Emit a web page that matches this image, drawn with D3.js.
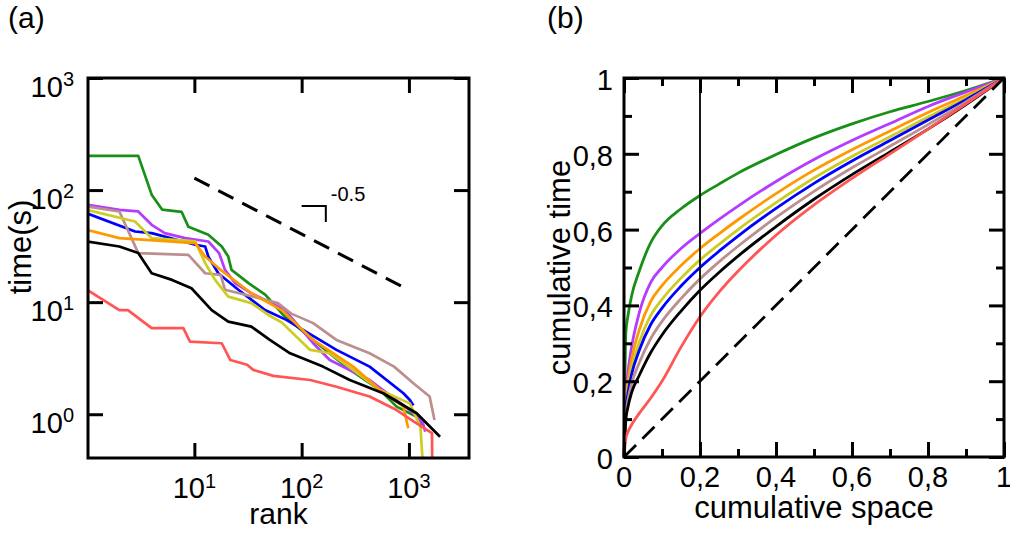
<!DOCTYPE html>
<html><head><meta charset="utf-8">
<script src="https://cdn.jsdelivr.net/npm/d3@7"></script>
<style>
html,body{margin:0;padding:0;background:#fff;}
svg{display:block;font-family:"Liberation Sans",Arial,Helvetica,sans-serif;}
</style></head><body>
<svg id="chart" width="1010" height="533"></svg>
<script>
// ---------- Panel (a): rank plot (rank, time in s) ----------
const rankTicks = [10, 100, 1000];
const timeTicks = [1, 10, 100, 1000];
const greenRank = [1, 3, 4, 5, 7.6, 8.8, 13.5, 18, 20.7, 22.2, 32, 46, 70, 128, 281, 535, 767, 1180, 1300];
const greenTime = [202, 202, 91, 67, 64, 47, 40, 31.4, 25.5, 19.4, 14.8, 11.6, 7.4, 4.6, 2.5, 1.65, 1.17, 0.95, 0.8];
const purpleRank = [1, 2, 3, 4, 5.3, 8.2, 13.5, 17, 19.3, 24, 34, 70, 128, 183, 430, 1020, 1350, 1420];
const purpleTime = [74, 66.7, 64.5, 49, 41.3, 37.3, 34.8, 27.4, 19.4, 14.8, 12, 8.5, 4.3, 3.05, 2.02, 1.09, 0.83, 0.7];
const blueRank = [1, 2.8, 4, 10.2, 12.6, 13.5, 16.7, 25.7, 45.6, 72, 211, 430, 888, 1020, 1100];
const blueTime = [62, 42.7, 41.3, 32.5, 31.4, 25.5, 18.1, 12.9, 8.5, 6.95, 3.75, 2.66, 1.54, 1.34, 1.2];
const brownRank = [1, 2, 3, 8.8, 12.6, 17.6, 19.3, 39.4, 60, 80, 128, 211, 430, 727, 1100, 1560, 1730];
const brownTime = [71.4, 64.4, 27.4, 26.4, 18.1, 17.5, 12.9, 10.9, 9.8, 7.9, 6.5, 4.6, 3.5, 2.66, 1.89, 1.44, 0.89];
const yellowRank = [1, 2.8, 4, 10.2, 12.6, 15.6, 20.7, 34, 50, 65, 120, 183, 302, 535, 1020, 1280, 1350];
const yellowTime = [66.7, 52.5, 37.3, 34.8, 22.3, 15.8, 11.2, 9.8, 7.6, 6.6, 3.75, 3.5, 2.49, 1.65, 1.25, 0.77, 0.35];
const orangeRank = [1, 2, 10.2, 12.6, 17.6, 34, 65, 128, 302, 535, 888, 985];
const orangeTime = [44.2, 37.3, 33.6, 25.5, 19.4, 12, 8.5, 4.6, 2.66, 1.65, 1.17, 0.75];
const blackRank = [1, 2, 3, 4, 6.2, 9.4, 14.5, 20.7, 34, 50.5, 78, 158, 281, 575, 1180, 1950];
const blackTime = [34.8, 31.4, 27.4, 18.1, 15.8, 13.3, 8.5, 6.7, 6.05, 4.6, 3.5, 2.66, 2.02, 1.54, 1.02, 0.63];
const redRank = [1, 2, 2.4, 4, 7.9, 9.1, 18, 21.6, 31, 35.4, 54.5, 120, 211, 430, 767, 1180, 1640, 1650];
const redTime = [12.9, 8.5, 8.5, 5.86, 5.86, 4.45, 4.3, 3.05, 2.76, 2.49, 2.2, 2.02, 1.76, 1.44, 1.09, 0.83, 0.68, 0.35];
const guideRank = [10, 1000];
const guideTime = [128, 12.8];
const slopeMarkRank = [100, 168, 168];
const slopeMarkTime = [72, 72, 52];
const slopeLabel = "-0.5";

// ---------- Panel (b): cumulative space vs cumulative time ----------
const spaceTicks = [0, 0.2, 0.4, 0.6, 0.8, 1];
const spaceMinorTicks = [0.1, 0.3, 0.5, 0.7, 0.9];
const spaceTickLabels = ["0", "0,2", "0,4", "0,6", "0,8", "1"];
const lorenzX =   [0, 0.005, 0.01, 0.02, 0.04, 0.07, 0.1, 0.15, 0.2, 0.25, 0.3, 0.4, 0.5, 0.6, 0.7, 0.8, 0.9, 1];
const greenCum =  [0, 0.33, 0.37, 0.425, 0.49, 0.565, 0.61, 0.655, 0.69, 0.72, 0.749, 0.798, 0.842, 0.879, 0.911, 0.938, 0.967, 1];
const purpleCum = [0, 0.17, 0.22, 0.29, 0.38, 0.46, 0.50, 0.55, 0.59, 0.627, 0.662, 0.727, 0.785, 0.835, 0.88, 0.925, 0.963, 1];
const orangeCum = [0, 0.151, 0.196, 0.258, 0.335, 0.41, 0.452, 0.505, 0.55, 0.589, 0.626, 0.695, 0.757, 0.811, 0.86, 0.909, 0.954, 1];
const yellowCum = [0, 0.137, 0.178, 0.234, 0.302, 0.373, 0.416, 0.472, 0.52, 0.561, 0.60, 0.671, 0.736, 0.793, 0.845, 0.897, 0.947, 1];
const blueCum =   [0, 0.128, 0.166, 0.218, 0.281, 0.349, 0.393, 0.451, 0.50, 0.543, 0.583, 0.656, 0.722, 0.781, 0.835, 0.889, 0.943, 1];
const brownCum =  [0, 0.114, 0.148, 0.194, 0.248, 0.312, 0.358, 0.418, 0.47, 0.515, 0.556, 0.632, 0.701, 0.763, 0.82, 0.877, 0.937, 1];
const blackCum =  [0, 0.10, 0.13, 0.17, 0.215, 0.275, 0.322, 0.385, 0.44, 0.487, 0.53, 0.608, 0.68, 0.745, 0.805, 0.865, 0.93, 1];
const redCum =    [0, 0.05, 0.065, 0.085, 0.115, 0.155, 0.20, 0.29, 0.37, 0.435, 0.49, 0.585, 0.665, 0.735, 0.80, 0.865, 0.932, 1];
const cutoffSpace = 0.2;

const colors = {green:"#189018", purple:"#b43cff", blue:"#0000ff", brown:"#bc8f8f",
  yellow:"#cccc22", orange:"#ff9900", black:"#000000", red:"#ff5555"};

const svg = d3.select("#chart");
const zip = (a, b) => a.map((v, i) => [v, b[i]]);

// ================= Panel (a) =================
const A = {l: 88, r: 469, t: 78, b: 458};
const xA = d3.scaleLog().domain([1.02, 3630]).range([A.l, A.r]);
const yA = d3.scaleLog().domain([0.407, 1000]).range([A.b, A.t]);
svg.append("clipPath").attr("id", "clipA").append("rect")
  .attr("x", A.l).attr("y", A.t).attr("width", A.r - A.l).attr("height", A.b - A.t);
const gA = svg.append("g");
const lineA = d3.line().x(d => xA(d[0])).y(d => yA(d[1]));
const seriesA = [
  ["green", greenRank, greenTime], ["purple", purpleRank, purpleTime], ["blue", blueRank, blueTime],
  ["brown", brownRank, brownTime], ["yellow", yellowRank, yellowTime], ["orange", orangeRank, orangeTime],
  ["black", blackRank, blackTime], ["red", redRank, redTime]];
const plotA = gA.append("g").attr("clip-path", "url(#clipA)");
seriesA.forEach(([c, r, t]) => {
  plotA.append("path").attr("d", lineA(zip(r, t))).attr("fill", "none")
    .attr("stroke", colors[c]).attr("stroke-width", 2.7).attr("stroke-linejoin", "round");
});
gA.append("path").attr("d", lineA(zip(guideRank, guideTime))).attr("fill", "none")
  .attr("stroke", "#000").attr("stroke-width", 3).attr("stroke-dasharray", "17,10");
gA.append("path").attr("d", lineA(zip(slopeMarkRank, slopeMarkTime))).attr("fill", "none")
  .attr("stroke", "#000").attr("stroke-width", 2);
gA.append("text").attr("x", xA(187)).attr("y", yA(80)).attr("font-size", 20).text(slopeLabel);

function styleAxis(g) {
  g.select(".domain").remove();
  g.selectAll(".tick line").attr("stroke", "#000").attr("stroke-width", 3);
  g.selectAll(".tick text").remove();
}
gA.append("g").attr("transform", `translate(0,${A.b})`)
  .call(d3.axisBottom(xA).tickValues(rankTicks).tickSizeInner(-15).tickSizeOuter(0)).call(styleAxis);
gA.append("g").attr("transform", `translate(0,${A.t})`)
  .call(d3.axisTop(xA).tickValues(rankTicks).tickSizeInner(-15).tickSizeOuter(0)).call(styleAxis);
gA.append("g").attr("transform", `translate(${A.l},0)`)
  .call(d3.axisLeft(yA).tickValues(timeTicks).tickSizeInner(-15).tickSizeOuter(0)).call(styleAxis);
gA.append("g").attr("transform", `translate(${A.r},0)`)
  .call(d3.axisRight(yA).tickValues(timeTicks).tickSizeInner(-15).tickSizeOuter(0)).call(styleAxis);
gA.append("rect").attr("x", A.l).attr("y", A.t).attr("width", A.r - A.l).attr("height", A.b - A.t)
  .attr("fill", "none").attr("stroke", "#000").attr("stroke-width", 3);

// tick labels (a)
const xLab = gA.selectAll(".xlab").data(rankTicks).join("text").attr("class", "xlab")
  .attr("x", d => xA(d)).attr("y", A.b + 40).attr("text-anchor", "middle").attr("font-size", 29);
xLab.append("tspan").text("10");
xLab.append("tspan").attr("dy", -10).attr("font-size", 20).text(d => Math.round(Math.log10(d)));
const yLab = gA.selectAll(".ylab").data(timeTicks).join("text").attr("class", "ylab")
  .attr("x", 74).attr("y", d => yA(d) + 19).attr("text-anchor", "end").attr("font-size", 29);
yLab.append("tspan").text("10");
yLab.append("tspan").attr("dy", -11).attr("font-size", 20).text(d => Math.round(Math.log10(d)));

gA.append("text").attr("x", (A.l + A.r) / 2).attr("y", 524).attr("text-anchor", "middle")
  .attr("font-size", 30).text("rank");
gA.append("text").attr("transform", "translate(31,247) rotate(-90)").attr("text-anchor", "middle")
  .attr("font-size", 31).text("time(s)");
svg.append("text").attr("x", 8).attr("y", 28).attr("font-size", 30).text("(a)");

// ================= Panel (b) =================
const B = {l: 624, r: 1004, t: 78, b: 457};
const xB = d3.scaleLinear().domain([0, 1]).range([B.l, B.r]);
const yB = d3.scaleLinear().domain([0, 1]).range([B.b, B.t]);
const gB = svg.append("g");
const lineB = d3.line().x(d => xB(d[0])).y(d => yB(d[1])).curve(d3.curveMonotoneX);
const seriesB = [["green", greenCum], ["purple", purpleCum], ["orange", orangeCum], ["yellow", yellowCum],
  ["blue", blueCum], ["brown", brownCum], ["black", blackCum], ["red", redCum]];
seriesB.forEach(([c, v]) => {
  gB.append("path").attr("d", lineB(zip(lorenzX, v))).attr("fill", "none")
    .attr("stroke", colors[c]).attr("stroke-width", 2.8);
});
gB.append("path").attr("d", d3.line().x(d => xB(d)).y(d => yB(d))([0, 1])).attr("fill", "none")
  .attr("stroke", "#000").attr("stroke-width", 2.8).attr("stroke-dasharray", "17,9");
gB.append("line").attr("x1", xB(cutoffSpace)).attr("x2", xB(cutoffSpace)).attr("y1", yB(0)).attr("y2", yB(1))
  .attr("stroke", "#000").attr("stroke-width", 1.8);

[[d3.axisBottom, `translate(0,${B.b})`, xB], [d3.axisTop, `translate(0,${B.t})`, xB],
 [d3.axisLeft, `translate(${B.l},0)`, yB], [d3.axisRight, `translate(${B.r},0)`, yB]].forEach(([ax, tr, sc]) => {
  gB.append("g").attr("transform", tr).call(ax(sc).tickValues(spaceTicks).tickSizeInner(-15).tickSizeOuter(0)).call(styleAxis);
  gB.append("g").attr("transform", tr).call(ax(sc).tickValues(spaceMinorTicks).tickSizeInner(-8).tickSizeOuter(0)).call(styleAxis);
});
gB.append("rect").attr("x", B.l).attr("y", B.t).attr("width", B.r - B.l).attr("height", B.b - B.t)
  .attr("fill", "none").attr("stroke", "#000").attr("stroke-width", 3);

gB.selectAll(".bx").data(spaceTicks).join("text").attr("class", "bx")
  .attr("x", d => xB(d)).attr("y", B.b + 30).attr("text-anchor", "middle").attr("font-size", 29)
  .text((d, i) => spaceTickLabels[i]);
gB.selectAll(".by").data(spaceTicks).join("text").attr("class", "by")
  .attr("x", 613).attr("y", d => yB(d) + 12).attr("text-anchor", "end").attr("font-size", 29)
  .text((d, i) => spaceTickLabels[i]);
gB.append("text").attr("x", (B.l + B.r) / 2).attr("y", 518).attr("text-anchor", "middle")
  .attr("font-size", 31).text("cumulative space");
gB.append("text").attr("transform", `translate(570,${(B.t + B.b) / 2}) rotate(-90)`).attr("text-anchor", "middle")
  .attr("font-size", 31).text("cumulative time");
svg.append("text").attr("x", 547).attr("y", 28).attr("font-size", 30).text("(b)");
</script></body></html>
